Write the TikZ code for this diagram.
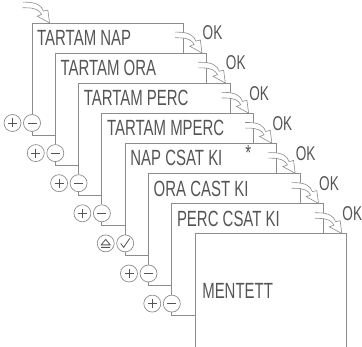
\documentclass[tikz,border=0pt]{standalone}
\usepackage{fontspec}
\usepackage{tikz}
\usetikzlibrary{calc}
\definecolor{linegray}{RGB}{140,140,140}
\definecolor{textgray}{RGB}{85,85,85}
\newfontfamily\lcdfont[FakeStretch=0.68]{Liberation Sans}
\tikzset{
  okarrow/.pic={
    \draw[draw=linegray, line width=0.6pt, fill=white]
      (-3,-2.5) -- (0,-2.5) .. controls (9,-2.5) and (14,0.5) .. (15.5,5.5) -- (19.5,4.5) -- (21,16)
      -- (10,10) -- (14,8.5) .. controls (12,4.5) and (8,2.5) .. (0,2.5) -- (-3,2.5);
  }
}
\begin{document}
\begin{tikzpicture}[
  x=1pt, y=-1pt,
  edge/.style={draw=linegray, line width=0.9pt},
  lcd/.style={anchor=west, inner sep=0pt, text=textgray, font=\lcdfont\fontsize{22}{22}\selectfont},
  oklabel/.style={inner sep=0pt, text=textgray, font=\lcdfont\fontsize{20}{20}\selectfont},
  btn/.style={circle, draw=linegray, line width=0.7pt, minimum size=17pt, inner sep=0pt},
  plusbtn/.style={btn, path picture={\draw[textgray, line width=0.8pt]
    ($(path picture bounding box.center)+(-4.5,0)$) -- ++(9,0)
    ($(path picture bounding box.center)+(0,-4.5)$) -- ++(0,9);}},
  minusbtn/.style={btn, path picture={\draw[textgray, line width=0.8pt]
    ($(path picture bounding box.center)+(-4.5,0)$) -- ++(9,0);}},
  ejectbtn/.style={btn, path picture={\draw[textgray, line width=0.8pt]
    ($(path picture bounding box.center)+(-4.5,1.5)$) -- ++(9,0) -- ++(-4.5,-5.5) -- cycle
    ($(path picture bounding box.center)+(-4.5,4)$) -- ++(9,0);}},
  checkbtn/.style={btn, path picture={\draw[textgray, line width=0.8pt]
    ($(path picture bounding box.center)+(-4.5,0)$) -- ++(3,4) -- ++(6,-9);}}
]
  \useasboundingbox (0,0) rectangle (362,347);

  \foreach \i/\txt in {1/TARTAM NAP, 2/TARTAM ORA, 3/TARTAM PERC, 4/TARTAM MPERC,
                       5/NAP CSAT KI, 6/ORA CAST KI, 7/PERC CSAT KI, 8/{}} {
    \pgfmathsetmacro\lx{32+23.3*(\i-1)}
    \pgfmathsetmacro\ty{23+30.1*(\i-1)}
    \coordinate (s\i) at (\lx,\ty);
    \coordinate (r\i) at (\lx+151.5,\ty);
    \coordinate (b\i) at (\lx,\ty+112);
    \node[lcd] (t\i) at (\lx+5,\ty+15) {\txt};
  }
  \coordinate (end) at (0,347);

  \foreach \i in {1,...,7} {
    \pgfmathtruncatemacro\nx{\i+1}
    \pgfmathsetmacro\lx{32+23.3*(\i-1)}
    \pgfmathsetmacro\ty{23+30.1*(\i-1)}
    \ifnum\i=5
      \node[checkbtn] (m\i) at (\lx,\ty+100) {};
      \node[ejectbtn] (p\i) at (\lx-19.5,\ty+100) {};
    \else
      \node[minusbtn] (m\i) at (\lx,\ty+100) {};
      \node[plusbtn] (p\i) at (\lx-19.5,\ty+100) {};
    \fi
    \draw[edge] (m\i.south) -- (b\i) -- (b\i -| s\nx);
    \draw[edge] (m\i.north) -- (s\i) -- (r\i) -- (r\i |- s\nx);
    \pic[scale=1.12] at ($(r\i)+(-5,12)$) {okarrow};
    \node[oklabel] (ok\i) at ($(r\i)+(29,10)$) {OK};
  }
  \draw[edge] (s8 |- end) -- (s8) -- (r8) -- (r8 |- end);

  \node[lcd] (star) at ($(s5)+(120,10)$) {*};
  \node[lcd] (save) at ($(s8)+(7,57)$) {MENTETT};
  \pic[scale=1.12] at ($(s1)+(-6,-18)$) {okarrow};
\end{tikzpicture}
\end{document}
